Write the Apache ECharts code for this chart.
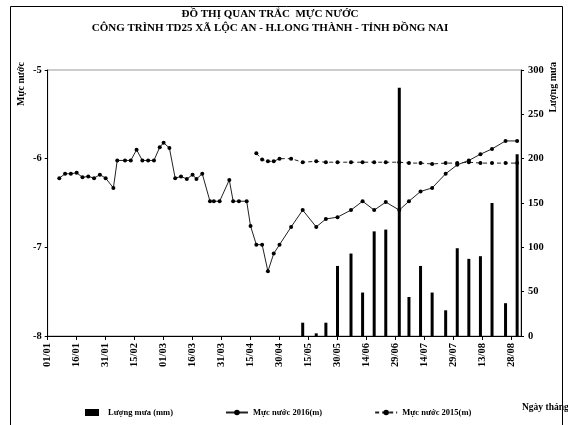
<!DOCTYPE html>
<html><head><meta charset="utf-8">
<script src="https://cdn.jsdelivr.net/npm/echarts@6/dist/echarts.min.js"></script>
<style>html,body{margin:0;padding:0;background:#fff}#c{width:568px;height:425px}</style>
</head><body><div id="c"></div>
<script>
// ---- data ----
const titleLines = ['ĐỒ THỊ QUAN TRẮC  MỰC NƯỚC', 'CÔNG TRÌNH TD25 XÃ LỘC AN - H.LONG THÀNH - TỈNH ĐỒNG NAI'];
const xTickLabels = ['01/01','16/01','31/01','15/02','01/03','16/03','31/03','15/04','30/04','15/05','30/05','14/06','29/06','14/07','29/07','13/08','28/08'];
const leftTicks = [-8, -7, -6, -5];
const rightTicks = [0, 50, 100, 150, 200, 250, 300];

const dates2016 = ['07/01','10/01','13/01','16/01','19/01','22/01','25/01','28/01','31/01','04/02','06/02','10/02','13/02','16/02','19/02','22/02','25/02','28/02','01/03','04/03','07/03','10/03','13/03','16/03','18/03','21/03','25/03','27/03','30/03','04/04','06/04','09/04','13/04','15/04','18/04','21/04','24/04','27/04','30/04','06/05','12/05','19/05','24/05','30/05','06/06','12/06','18/06','24/06','01/07','06/07','12/07','18/07','25/07','31/07','06/08','12/08','18/08','25/08','31/08'];
const level2016 = [-6.22,-6.17,-6.17,-6.16,-6.21,-6.20,-6.22,-6.18,-6.22,-6.33,-6.02,-6.02,-6.02,-5.90,-6.02,-6.02,-6.02,-5.87,-5.82,-5.88,-6.22,-6.20,-6.23,-6.18,-6.23,-6.17,-6.48,-6.48,-6.48,-6.24,-6.48,-6.48,-6.48,-6.76,-6.97,-6.97,-7.27,-7.07,-6.97,-6.77,-6.58,-6.77,-6.68,-6.66,-6.58,-6.48,-6.58,-6.49,-6.58,-6.48,-6.37,-6.33,-6.17,-6.07,-6.02,-5.95,-5.89,-5.80,-5.80];

const dates2015 = ['18/04','21/04','24/04','27/04','30/04','06/05','12/05','19/05','24/05','30/05','06/06','12/06','18/06','24/06','01/07','06/07','12/07','18/07','25/07','31/07','06/08','12/08','18/08','25/08','31/08'];
const level2015 = [-5.94,-6.01,-6.03,-6.03,-6.00,-6.00,-6.04,-6.03,-6.04,-6.04,-6.04,-6.04,-6.04,-6.04,-6.04,-6.05,-6.05,-6.06,-6.05,-6.05,-6.04,-6.05,-6.05,-6.05,-6.05];

const rainDates = ['12/05','19/05','24/05','30/05','06/06','12/06','18/06','24/06','01/07','06/07','12/07','18/07','25/07','31/07','06/08','12/08','18/08','25/08','31/08'];
const rainValues = [15,3,15,79,93,49,118,120,280,44,79,49,29,99,87,90,150,37,205];

const legendNames = ['Lượng mưa (mm)', 'Mực nước 2016(m)', 'Mực nước 2015(m)'];

// ---- helpers ----
const monthStart = [0,31,60,91,121,152,182,213,244,274,305,335]; // 2016 (leap year)
function dayOf(s){ const p = s.split('/'); return monthStart[+p[1]-1] + (+p[0]) - 1; }
function pairs(ds, vs){ return ds.map((d,i)=>[dayOf(d), vs[i]]); }

const FONT = '"Liberation Serif", "Times New Roman", serif';
const chart = echarts.init(document.getElementById('c'), null, {renderer:'canvas'});
chart.setOption({
  animation:false,
  backgroundColor:'#fff',
  textStyle:{fontFamily:FONT},
  grid:{left:47.7, right:47, top:70, bottom:89, show:true, borderColor:'#999', borderWidth:1, backgroundColor:'transparent'},
  xAxis:{
    type:'value', min:0, max:245, interval:15,
    axisLine:{lineStyle:{color:'#000', width:1}},
    axisTick:{show:true, length:4, lineStyle:{color:'#000'}},
    splitLine:{show:false},
    axisLabel:{rotate:90, color:'#000', fontFamily:FONT, fontWeight:'bold', fontSize:10.5, margin:7,
      showMaxLabel:false,
      formatter:function(v){ const i = Math.round(v/15); return (Math.abs(v - i*15) < 0.01 && i < xTickLabels.length) ? xTickLabels[i] : ''; }}
  },
  yAxis:[
    {type:'value', min:leftTicks[0], max:leftTicks[leftTicks.length-1], interval:1, position:'left',
      axisLine:{show:true, lineStyle:{color:'#000'}},
      axisTick:{show:true, length:3, lineStyle:{color:'#000'}},
      splitLine:{show:false},
      axisLabel:{color:'#000', fontFamily:FONT, fontWeight:'bold', fontSize:10.5, margin:6}},
    {type:'value', min:rightTicks[0], max:rightTicks[rightTicks.length-1], interval:50, position:'right',
      axisLine:{show:true, lineStyle:{color:'#000'}},
      axisTick:{show:true, length:3, lineStyle:{color:'#000'}},
      splitLine:{show:false},
      axisLabel:{color:'#000', fontFamily:FONT, fontWeight:'bold', fontSize:10.5, margin:7}}
  ],
  legend:{
    left:80, top:403, itemGap:52, itemWidth:22, itemHeight:7,
    textStyle:{fontFamily:FONT, fontWeight:'bold', fontSize:8.5, color:'#000'},
    data:[
      {name:legendNames[0], icon:'path://M0,0H2V1H0Z'},
      {name:legendNames[1]},
      {name:legendNames[2]}
    ]
  },
  series:[
    {name:legendNames[0], type:'bar', yAxisIndex:1, barWidth:3, itemStyle:{color:'#000'},
      data:pairs(rainDates, rainValues)},
    {name:legendNames[1], type:'line', yAxisIndex:0, symbol:'circle', symbolSize:4,
      itemStyle:{color:'#000'}, lineStyle:{color:'#222', width:1, type:'solid'},
      data:pairs(dates2016, level2016)},
    {name:legendNames[2], type:'line', yAxisIndex:0, symbol:'circle', symbolSize:4,
      itemStyle:{color:'#000'}, lineStyle:{color:'#222', width:1, type:[4,3]},
      data:pairs(dates2015, level2015)}
  ],
  graphic:[
    {type:'rect', shape:{x:10.5, y:6.5, width:552, height:430}, style:{fill:null, stroke:'#000', lineWidth:1}, silent:true},
    {type:'text', x:270, y:14, style:{text:titleLines[0], font:'bold 11px '+FONT, fill:'#000', align:'center', verticalAlign:'middle'}},
    {type:'text', x:270, y:28, style:{text:titleLines[1], font:'bold 11px '+FONT, fill:'#000', align:'center', verticalAlign:'middle'}},
    {type:'text', x:21, y:62, rotation:Math.PI/2, style:{text:'Mực nước', font:'bold 10px '+FONT, fill:'#000', align:'right', verticalAlign:'middle'}},
    {type:'text', x:553, y:62, rotation:Math.PI/2, style:{text:'Lượng mưa', font:'bold 10px '+FONT, fill:'#000', align:'right', verticalAlign:'middle'}},
    {type:'text', x:522, y:403, style:{text:'Ngày tháng', font:'bold 9.5px '+FONT, fill:'#000'}}
  ]
});
</script></body></html>
